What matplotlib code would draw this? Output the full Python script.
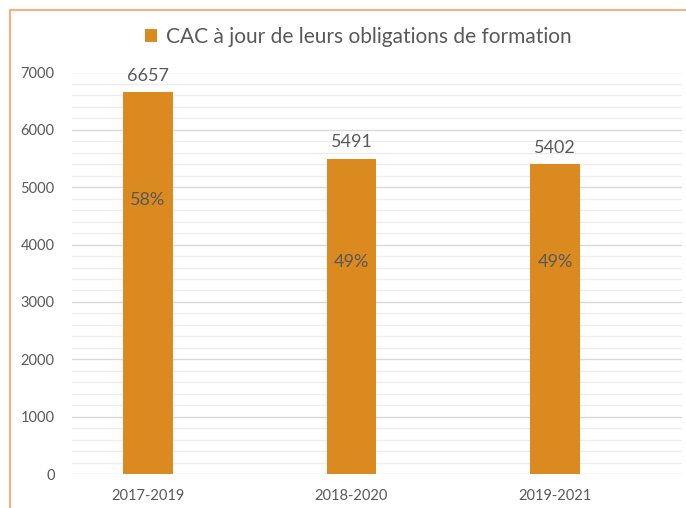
import matplotlib
matplotlib.use("Agg")
import matplotlib.pyplot as plt
from matplotlib.lines import Line2D
from matplotlib.ticker import MultipleLocator

categories = ["2017-2019", "2018-2020", "2019-2021"]
values = [6657, 5491, 5402]
percent_labels = ["58%", "49%", "49%"]
legend_label = "CAC à jour de leurs obligations de formation"

plt.rcParams['font.family'] = ['Lato', 'DejaVu Sans']

bar_color = "#DA8A1F"
text_color = "#595959"

fig = plt.figure(figsize=(6.86, 5.08), dpi=100)
ax = fig.add_axes([72/686, 1 - 474/508, (682 - 72)/686, (474 - 72.5)/508])

x = list(range(len(categories)))
bars = ax.bar(x, values, width=0.245, color=bar_color, zorder=3, label=legend_label)

ax.set_ylim(0, 7000)
ax.set_xlim(-0.373, 2.624)
ax.yaxis.set_major_locator(MultipleLocator(1000))
ax.yaxis.set_minor_locator(MultipleLocator(200))
ax.grid(axis='y', which='major', color='#D9D9D9', linewidth=1.0, zorder=0)
ax.grid(axis='y', which='minor', color='#EDEDED', linewidth=1.0, zorder=0)
ax.tick_params(axis='both', which='both', length=0)
ax.tick_params(axis='y', labelsize=10.5, labelcolor=text_color, pad=12.5)
ax.tick_params(axis='x', labelsize=10.5, labelcolor=text_color, pad=11)
ax.set_xticks(x)
ax.set_xticklabels(categories)
for s in ax.spines.values():
    s.set_visible(False)

label_frac = [0.717, 0.672, 0.683]
for xi, v, p, fr in zip(x, values, percent_labels, label_frac):
    ax.text(xi, v + 150, f"{v}", ha='center', va='bottom', fontsize=13,
            color=text_color, clip_on=False)
    ax.text(xi, v * fr, p, ha='center', va='center', fontsize=13, color=text_color)

leg = fig.legend(handles=[bars], labels=[legend_label], loc='center',
                 bbox_to_anchor=(358/686, 1 - 37/508), frameon=False,
                 fontsize=15, handlelength=0.6, handleheight=0.6, handletextpad=0.4,
                 labelcolor=text_color)

border = "#F4B183"
fig.add_artist(Line2D([10/686, 10/686], [0, 1 - 10/508], color=border, lw=1.5,
                      transform=fig.transFigure))
fig.add_artist(Line2D([10/686, 1], [1 - 10/508, 1 - 10/508], color=border, lw=1.5,
                      transform=fig.transFigure))

fig.savefig("out.png", dpi=100)
